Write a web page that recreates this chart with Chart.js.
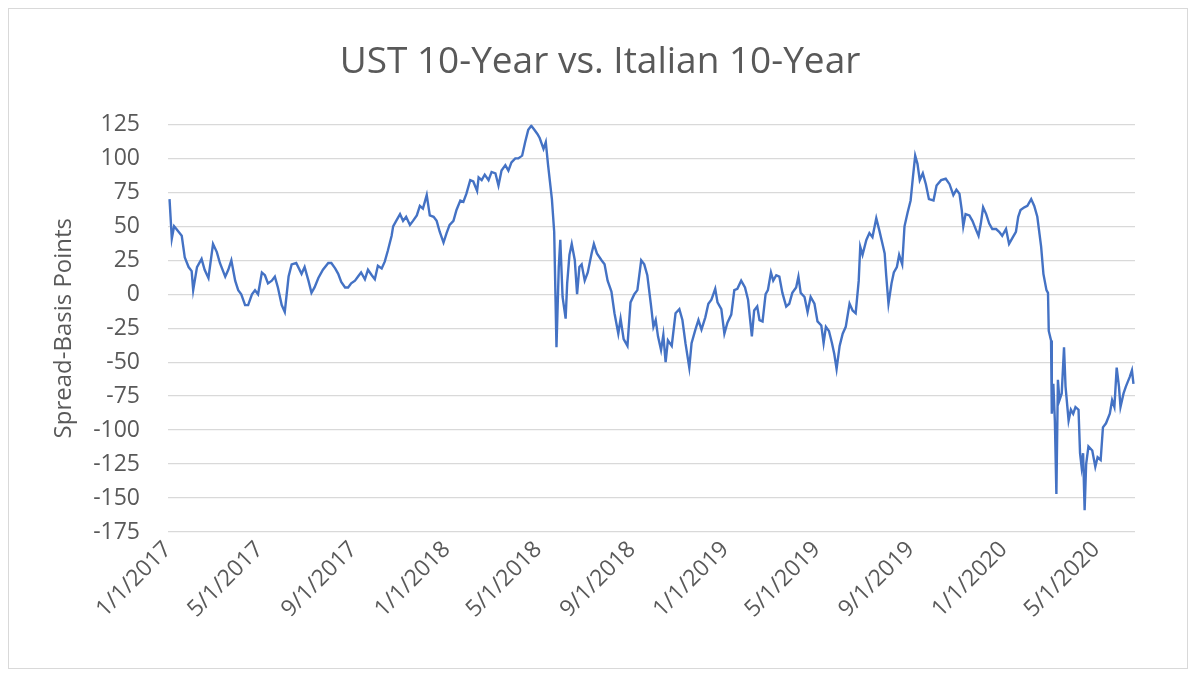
<!DOCTYPE html>
<html>
<head>
<meta charset="utf-8">
<script src="https://cdn.jsdelivr.net/npm/chart.js@4.4.1/dist/chart.umd.min.js"></script>
<style>
    html, body { margin: 0; padding: 0; background: #fff; }
    #wrap { position: relative; width: 1200px; height: 678px; }
    #frame { position: absolute; left: 8px; top: 8px; width: 1178px; height: 659px; border: 1px solid #d9d9d9; pointer-events: none; }
</style>
</head>
<body>
<div id="wrap">
    <canvas id="my-spread" width="1200" height="678" style="width:1200px;height:678px"></canvas>
    <div id="frame"></div>
</div>
<script>
/*
    Spread data
    days = days since 1/1/2017, spread = basis points
*/
const days = [
    2, 5, 8, 11, 18, 22, 27, 31, 33, 38, 44, 48, 53, 59, 64, 68, 75, 79, 83, 88,
    92, 96, 101, 105, 110, 114, 118, 123, 127, 131, 136, 140, 144, 149, 153, 158, 162, 168, 175, 179,
    184, 188, 192, 197, 203, 210, 214, 219, 223, 227, 232, 236, 240, 245, 249,
    253, 258, 262, 267, 271, 275, 280, 284, 288, 293, 295, 299, 304, 308, 312, 317, 321, 326, 330, 334,
    339, 343, 348, 352, 356, 361, 365, 369, 374, 378, 383, 387, 391, 396, 400, 405, 407, 411, 415, 420,
    424, 429, 433, 437, 442, 446, 450, 455, 459, 464, 468, 472, 476, 480, 484, 487, 492, 495, 498, 503, 506,
    509, 512, 514, 517, 521, 523, 526, 529, 533, 536, 539, 542, 546, 550, 555, 558, 562, 568, 572, 576,
    581, 585, 590, 593, 597, 602, 606, 611, 615, 620, 624, 628, 633, 636, 639, 642, 646, 649, 652, 655,
    660, 665, 670, 674, 678, 683, 686, 691, 695, 699, 704, 708, 712, 717, 720, 725, 729, 733, 738, 742,
    746, 751, 756, 760, 765,
    768, 772, 775, 779, 783, 786, 790, 793, 797, 801, 805, 810, 814, 818, 823, 826, 829, 834, 838, 842,
    847, 851, 856, 859, 862, 866, 870, 873, 876, 880, 884, 888, 893, 897, 901, 905, 907, 910, 915, 919,
    923, 928, 932, 937, 939, 941, 944, 948, 951, 955, 958, 962, 965, 969, 973, 976, 979, 982, 985, 989,
    993, 997, 1003, 1007, 1013, 1019, 1024, 1029, 1033,
    1037, 1040, 1042, 1045, 1050, 1054, 1059, 1062, 1065, 1068, 1072, 1076, 1080, 1085, 1089, 1093, 1098, 1102, 1107, 1111,
    1114, 1117, 1122, 1126, 1131, 1135, 1139, 1144, 1147, 1151, 1153, 1154, 1157, 1158, 1160, 1162, 1164, 1166, 1168, 1171,
    1174, 1176, 1180, 1183, 1186, 1189, 1193, 1195, 1197, 1199, 1201, 1203, 1206, 1211, 1215, 1218, 1222, 1225, 1229, 1234,
    1237, 1240, 1243, 1246, 1248, 1252, 1255, 1260, 1263, 1265
];
const spread = [
    70, 41, 50, 48, 43, 27, 20, 17, 3, 20, 26, 18, 12, 37, 31, 23, 13, 18, 25, 10,
    3, 0, -8, -8, 0, 3, 0, 16, 14, 8, 10, 13, 5, -8, -13, 13, 22, 23, 15, 20,
    10, 1, 5, 12, 18, 23, 23, 19, 15, 9, 5, 5, 8, 10, 13,
    16, 11, 18, 14, 11, 21, 19, 24, 32, 43, 50, 54, 59, 54, 57, 51, 54, 58, 65, 63,
    73, 58, 57, 54, 46, 38, 45, 51, 54, 62, 69, 68, 74, 84, 83, 76, 86, 84, 88, 84,
    90, 89, 80, 91, 95, 91, 97, 100, 100, 102, 112, 121, 124, 121, 118, 115, 107, 112, 95, 70, 46,
    -39, 20, 40, -2, -18, 8, 29, 37, 25, 0, 20, 22, 10, 16, 30, 37, 30, 25, 22, 10,
    2, -14, -29, -18, -33, -38, -6, 0, 3, 25, 22, 14, -9, -24, -19, -31, -41, -30, -50, -34,
    -38, -14, -11, -19, -36, -54, -36, -26, -19, -26, -17, -7, -4, 4, -6, -11, -29, -21, -15, 3,
    4, 10, 5, -4, -31,
    -12, -9, -19, -20, 0, 3, 16, 10, 14, 13, 1, -9, -7, 1, 5, 13, 1, -2, -13, -2,
    -7, -20, -23, -36, -24, -27, -36, -44, -55, -38, -29, -24, -7, -12, -14, 10, 35, 29, 40, 45,
    42, 56, 47, 35, 30, 14, -7, 8, 16, 20, 29, 22, 50, 60, 69, 86, 102, 96, 84, 89,
    81, 70, 69, 80, 84, 85, 81, 73, 77,
    74, 62, 50, 59, 58, 54, 47, 43, 52, 64, 59, 52, 48, 48, 46, 43, 48, 37, 42, 46,
    57, 62, 64, 65, 70, 65, 57, 35, 15, 3, 1, -27, -34, -88, -66, -93, -147, -63, -78, -73,
    -39, -68, -93, -85, -88, -83, -85, -117, -127, -117, -159, -125, -112, -115, -127, -120, -122, -98, -95, -88,
    -78, -83, -54, -68, -83, -73, -68, -61, -56, -66
];

// x axis labels every 4 months
const tickDays = [0, 120, 243, 365, 485, 608, 730, 850, 973, 1095, 1216];
const tickLabels = ['1/1/2017', '5/1/2017', '9/1/2017', '1/1/2018', '5/1/2018', '9/1/2018',
    '1/1/2019', '5/1/2019', '9/1/2019', '1/1/2020', '5/1/2020'];

const points = days.map((d, i) => ({ x: d, y: spread[i] }));

Chart.defaults.font.family = "'Open Sans', sans-serif";
Chart.defaults.color = '#595959';

const ctx = document.getElementById('my-spread').getContext('2d');
const myChart = new Chart(ctx, {
    type: 'line',
    data: {
        datasets: [{
            label: 'Spread',
            data: points,
            borderColor: '#4472C4', // Line color
            borderWidth: 2.4,
            fill: false,
            pointRadius: 0, // Hide the points
            tension: 0
        }]
    },
    options: {
        animation: false, // Disable animations
        responsive: false,
        layout: { padding: 0 },
        plugins: {
            legend: { display: false },
            tooltip: { enabled: false },
            title: {
                display: true,
                text: 'UST 10-Year vs. Italian 10-Year',
                color: '#595959',
                font: { size: 37, weight: 'normal' },
                padding: { top: 40, bottom: 40 }
            }
        },
        scales: {
            x: {
                type: 'linear',
                min: 0,
                max: 1267,
                afterBuildTicks: function(axis) {
                    axis.ticks = tickDays.map(v => ({ value: v }));
                },
                afterFit: function(axis) {
                    axis.height = 146;
                },
                ticks: {
                    autoSkip: false,
                    minRotation: 45,
                    maxRotation: 45,
                    padding: 4,
                    color: '#595959',
                    font: { size: 23 },
                    callback: function(value) {
                        return tickLabels[tickDays.indexOf(value)];
                    }
                },
                grid: { display: false, drawTicks: false },
                border: { display: false }
            },
            y: {
                min: -175,
                max: 125,
                afterFit: function(axis) {
                    axis.width = 168;
                },
                ticks: {
                    stepSize: 25, // Show every 25 bp
                    padding: 28,
                    color: '#595959',
                    font: { size: 23 }
                },
                grid: { color: '#d9d9d9', lineWidth: 1.3, drawTicks: false },
                border: { display: false },
                title: {
                    display: true,
                    text: 'Spread-Basis Points',
                    color: '#595959',
                    font: { size: 24 },
                    padding: { top: 50, bottom: 0 }
                }
            },
            // empty right axis, only keeps the plot off the right edge
            yRight: {
                position: 'right',
                min: -175,
                max: 125,
                afterFit: function(axis) {
                    axis.width = 65;
                },
                ticks: { display: false },
                grid: { display: false, drawTicks: false },
                border: { display: false }
            }
        }
    }
});
</script>
</body>
</html>
